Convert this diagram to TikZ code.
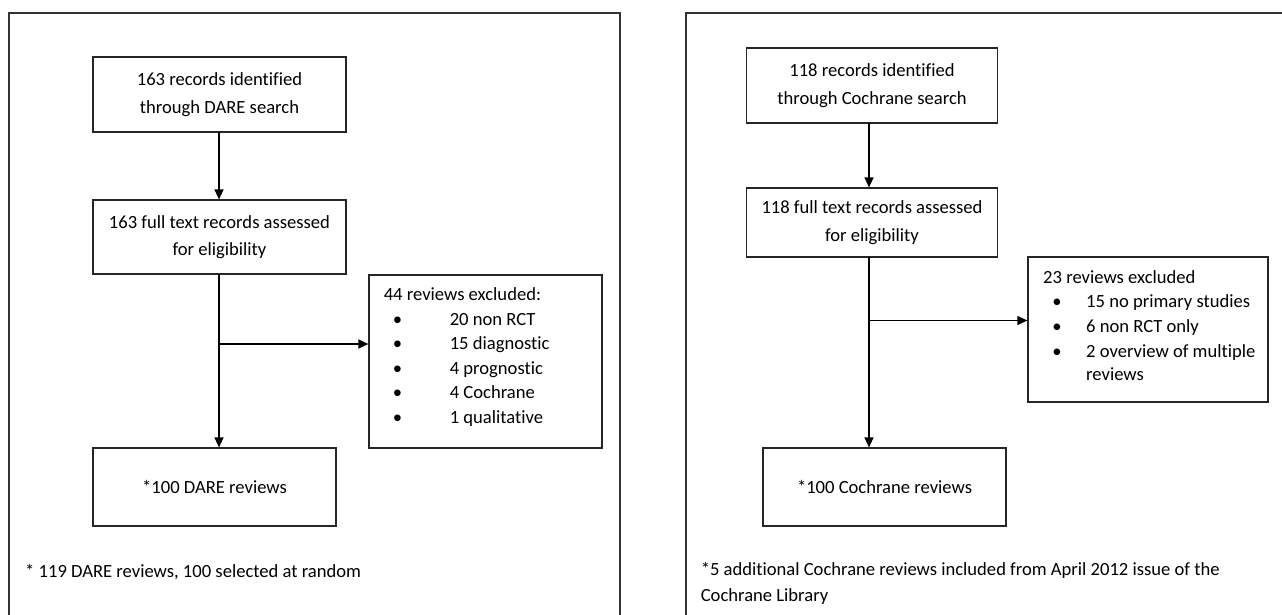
\documentclass[tikz,border=0pt]{standalone}
\usepackage{fontspec}
\setmainfont[Ligatures=NoCommon]{Carlito}
\usetikzlibrary{arrows.meta}
\begin{document}
\begin{tikzpicture}[x=1pt,y=-1pt,
  every node/.style={font=\fontsize{18.6}{27.5}\selectfont, text=black},
  box/.style={draw=black!85, line width=1.2pt, inner sep=0pt, align=center},
  frame/.style={draw=black!80, line width=1.2pt},
  arr/.style={draw=black, line width=1.4pt, -{Triangle[length=10pt,width=9pt]}},
  txt/.style={anchor=base west, inner sep=0pt},
  bul/.style={anchor=base, inner sep=0pt}]
\useasboundingbox (0,0) rectangle (1282,614);
\clip (0,0) rectangle (1282,614);
\fill[white] (0,0) rectangle (1282,614);
% frames
\draw[frame] (9,13) rectangle (620,640);
\draw[frame] (686,13) rectangle (1300,640);

% ---------- left panel ----------
\node[box, minimum width=253, minimum height=75] (l1) at (219.5,94.5) {163 records identified\\through DARE search};
\node[box, minimum width=253, minimum height=74] (l2) at (219.5,237) {163 full text records assessed\\for eligibility};
\node[box, minimum width=243, minimum height=78] (l3) at (214.5,487) {};
\node[inner sep=0pt] (l3t) at (214.5,487) {*100 DARE reviews};
\node[box, minimum width=233, minimum height=173] (lx) at (485.5,361.5) {};
\node[txt] (lh) at (383.6,300) {44 reviews excluded:};
\node[bul] (lb1) at (397.5,325) {\textbullet};
\node[bul] (lb2) at (397.5,349.5) {\textbullet};
\node[bul] (lb3) at (397.5,374) {\textbullet};
\node[bul] (lb4) at (397.5,398.5) {\textbullet};
\node[bul] (lb5) at (397.5,423) {\textbullet};
\node[txt] (lt1) at (449.6,325) {20 non RCT};
\node[txt] (lt2) at (449.6,349.5) {15 diagnostic};
\node[txt] (lt3) at (449.6,374) {4 prognostic};
\node[txt] (lt4) at (449.6,398.5) {4 Cochrane};
\node[txt] (lt5) at (449.6,423) {1 qualitative};
\node[txt] (lf) at (25,577) {* 119 DARE reviews, 100 selected at random};
\coordinate (ltop) at (219,132);
\coordinate (lmid) at (219,274);
\coordinate (lbr) at (219,344);
\draw[arr] (ltop) -- (ltop |- l2.north);
\draw[arr] (lmid) -- (lmid |- l3.north);
\draw[arr] (lbr) -- (lbr -| lx.west);

% ---------- right panel ----------
\node[box, minimum width=251.5, minimum height=75] (r1) at (872,85.5) {118 records identified\\through Cochrane search};
\node[box, minimum width=251.5, minimum height=69] (r2) at (872,222.5) {118 full text records assessed\\for eligibility};
\node[box, minimum width=243, minimum height=78] (r3) at (884.5,487) {};
\node[inner sep=0pt] (r3t) at (884.5,487) {*100 Cochrane reviews};
\node[box, minimum width=240, minimum height=145] (rx) at (1148,329.5) {};
\node[txt] (rh) at (1043,283.5) {23 reviews excluded};
\node[bul] (rb1) at (1057,307.5) {\textbullet};
\node[bul] (rb2) at (1057,332.5) {\textbullet};
\node[bul] (rb3) at (1057,357) {\textbullet};
\node[txt] (rt1) at (1086,307.5) {15 no primary studies};
\node[txt] (rt2) at (1086,332.5) {6 non RCT only};
\node[txt] (rt3) at (1086,357) {2 overview of multiple};
\node[txt] (rt4) at (1086,380) {reviews};
\node[txt] (rf1) at (700.6,575) {*5 additional Cochrane reviews included from April 2012 issue of the};
\node[txt] (rf2) at (700.6,601) {Cochrane Library};
\coordinate (rtop) at (869,123);
\coordinate (rmid) at (869,257);
\coordinate (rbr) at (869,320.5);
\draw[arr] (rtop) -- (rtop |- r2.north);
\draw[arr] (rmid) -- (rmid |- r3.north);
\draw[arr] (rbr) -- (rbr -| rx.west);
\end{tikzpicture}
\end{document}
